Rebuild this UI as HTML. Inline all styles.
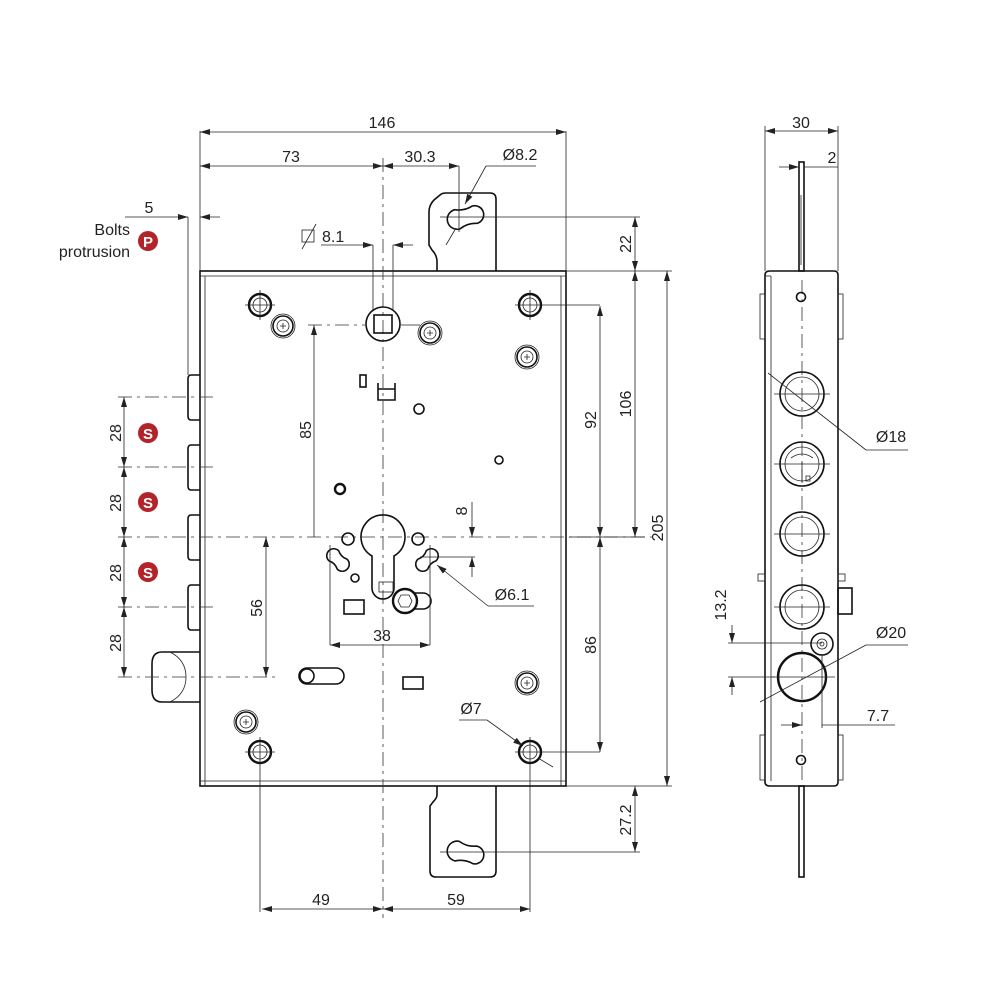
<!DOCTYPE html>
<html><head><meta charset="utf-8"><style>
html,body{margin:0;padding:0;background:#fff}
svg{display:block}
text{font-family:"Liberation Sans","DejaVu Sans",sans-serif;font-size:16px;fill:#222}
.t{stroke:#222;stroke-width:.8;fill:none}
.m{stroke:#111;stroke-width:1.6;fill:none}
.k{stroke:#111;stroke-width:2.4;fill:none}
.d{stroke:#333;stroke-width:.8;fill:none;stroke-dasharray:14 5 3 5}
</style></head><body>
<svg width="1000" height="993" viewBox="0 0 1000 993" xmlns="http://www.w3.org/2000/svg">
<defs>
<marker id="a" viewBox="0 0 10 6" refX="10" refY="3" markerWidth="10" markerHeight="6" orient="auto-start-reverse" markerUnits="userSpaceOnUse"><path d="M0,0 L10,3 L0,6 z" fill="#222"/></marker>
<g id="sc">
<circle cx="0" cy="0" r="12" class="t"/><circle cx="0" cy="0" r="10" class="m"/><circle cx="0" cy="0" r="6" class="t"/>
<path d="M-3,0 H3 M0,-3 V3" class="t"/>
</g>
<path id="pn" d="M-9,-10 A10,10 0 1,0 -9,10 Q0,6 9,9 A9,9 0 1,0 9,-9 Q0,-6 -9,-10 Z" class="m"/>
<path id="ps" d="M-6,-7 A7,7 0 1,0 -6,7 Q0,4 6,7 A7,7 0 1,0 6,-7 Q0,-4 -6,-7 Z" class="m"/>
</defs>

<!-- MAIN BODY -->
<rect x="200" y="271" width="366" height="515" class="m"/>
<line x1="205" y1="276" x2="205" y2="786" class="t"/>
<line x1="561" y1="276" x2="561" y2="786" class="t"/>
<line x1="200" y1="276" x2="566" y2="276" class="t"/>
<line x1="200" y1="781" x2="566" y2="781" class="t"/>

<!-- top plate -->
<path d="M437,271 L437,262 Q437,255 432,250 L429,245 L429,212 Q429,205 434,200 L440,195 Q442,193 446,193 L490,193 Q496,193 496,199 L496,271" class="m"/>
<use href="#pn" transform="translate(466,217) rotate(-15)"/>
<!-- bottom plate -->
<path d="M437,786 L437,795 Q437,798 433,802 L430,806 L430,871 Q430,877 436,877 L490,877 Q496,877 496,871 L496,786" class="m"/>
<use href="#pn" transform="translate(466,853) rotate(12)"/>

<!-- centre line -->
<line x1="383" y1="158" x2="383" y2="918" class="d"/>

<!-- bolts -->
<path d="M200,375 L191,375 Q188,375 188,379 L188,416 Q188,420 191,420 L200,420" class="m"/>
<path d="M200,445 L191,445 Q188,445 188,449 L188,486 Q188,490 191,490 L200,490" class="m"/>
<path d="M200,515 L191,515 Q188,515 188,519 L188,556 Q188,560 191,560 L200,560" class="m"/>
<path d="M200,585 L191,585 Q188,585 188,589 L188,626 Q188,630 191,630 L200,630" class="m"/>
<path d="M200,652 L162,652 Q152,652 152,664 L152,690 Q152,702 162,702 L200,702" class="m"/>
<path d="M170,652 Q186,660 186,677 Q186,694 170,702" class="t"/>
<line x1="188" y1="217" x2="188" y2="375" class="t"/>

<!-- bolt dashed lines -->
<g class="d">
<line x1="118" y1="397" x2="215" y2="397"/>
<line x1="118" y1="467" x2="215" y2="467"/>
<line x1="118" y1="537" x2="660" y2="537"/>
<line x1="118" y1="607" x2="215" y2="607"/>
<line x1="118" y1="677" x2="278" y2="677"/>
<line x1="308" y1="325" x2="365" y2="325"/>
</g>
<line x1="401" y1="325" x2="420" y2="325" class="t"/>

<!-- 28 dims -->
<line x1="124" y1="397" x2="124" y2="467" class="t" marker-start="url(#a)" marker-end="url(#a)"/>
<line x1="124" y1="467" x2="124" y2="537" class="t" marker-start="url(#a)" marker-end="url(#a)"/>
<line x1="124" y1="537" x2="124" y2="607" class="t" marker-start="url(#a)" marker-end="url(#a)"/>
<line x1="124" y1="607" x2="124" y2="677" class="t" marker-start="url(#a)" marker-end="url(#a)"/>
<g font-size="16">
<text transform="translate(121,433) rotate(-90)" text-anchor="middle">28</text>
<text transform="translate(121,503) rotate(-90)" text-anchor="middle">28</text>
<text transform="translate(121,573) rotate(-90)" text-anchor="middle">28</text>
<text transform="translate(121,643) rotate(-90)" text-anchor="middle">28</text>
</g>
<!-- badges -->
<g>
<circle cx="148" cy="433" r="10" fill="#b3232a"/><text x="148" y="439" text-anchor="middle" style="fill:#fff;font-weight:bold;font-size:15px">S</text>
<circle cx="148" cy="502" r="10" fill="#b3232a"/><text x="148" y="508" text-anchor="middle" style="fill:#fff;font-weight:bold;font-size:15px">S</text>
<circle cx="148" cy="572" r="10" fill="#b3232a"/><text x="148" y="578" text-anchor="middle" style="fill:#fff;font-weight:bold;font-size:15px">S</text>
<circle cx="148" cy="241" r="10" fill="#b3232a"/><text x="148" y="247" text-anchor="middle" style="fill:#fff;font-weight:bold;font-size:15px">P</text>
</g>
<text x="130" y="235" text-anchor="end">Bolts</text>
<text x="130" y="257" text-anchor="end">protrusion</text>

<!-- 5 dim -->
<line x1="125" y1="217" x2="188" y2="217" class="t" marker-end="url(#a)"/>
<line x1="220" y1="217" x2="200" y2="217" class="t" marker-end="url(#a)"/>
<text x="149" y="213" text-anchor="middle">5</text>

<!-- 146 / 73 / 30.3 -->
<line x1="200" y1="131" x2="200" y2="271" class="t"/>
<line x1="566" y1="131" x2="566" y2="271" class="t"/>
<line x1="200" y1="132" x2="566" y2="132" class="t" marker-start="url(#a)" marker-end="url(#a)"/>
<text x="382" y="128" text-anchor="middle">146</text>
<line x1="200" y1="166" x2="383" y2="166" class="t" marker-start="url(#a)" marker-end="url(#a)"/>
<text x="291" y="162" text-anchor="middle">73</text>
<line x1="383" y1="166" x2="459" y2="166" class="t" marker-start="url(#a)" marker-end="url(#a)"/>
<line x1="459" y1="166" x2="459" y2="232" class="t"/>
<text x="420" y="162" text-anchor="middle">30.3</text>
<text x="520" y="160" text-anchor="middle">Ø8.2</text>
<line x1="486" y1="166" x2="536" y2="166" class="t"/>
<line x1="486" y1="166" x2="465" y2="204" class="t" marker-end="url(#a)"/>
<line x1="456" y1="228" x2="446" y2="245" class="t" />
<line x1="440" y1="217" x2="640" y2="217" class="t"/>

<!-- 8.1 -->
<rect x="302" y="230" width="12" height="12" class="t"/>
<line x1="302" y1="249" x2="316" y2="224" class="t"/>
<text x="322" y="242">8.1</text>
<line x1="321" y1="245" x2="373" y2="245" class="t" marker-end="url(#a)"/>
<line x1="413" y1="245" x2="393" y2="245" class="t" marker-end="url(#a)"/>
<line x1="373" y1="245" x2="373" y2="310" class="t"/>
<line x1="393" y1="245" x2="393" y2="310" class="t"/>

<!-- spindle -->
<circle cx="383" cy="324" r="17" class="m"/>
<rect x="374" y="315" width="18" height="18" class="m"/>

<!-- fixing holes -->
<g>
<circle cx="260" cy="305" r="11" class="k"/><circle cx="260" cy="305" r="7" class="t"/>
<circle cx="530" cy="305" r="11" class="k"/><circle cx="530" cy="305" r="7" class="t"/>
<circle cx="260" cy="752" r="11" class="k"/><circle cx="260" cy="752" r="7" class="t"/>
<circle cx="530" cy="752" r="11" class="k"/><circle cx="530" cy="752" r="7" class="t"/>
</g>
<g class="t">
<line x1="245" y1="305" x2="275" y2="305"/><line x1="260" y1="290" x2="260" y2="320"/>
<line x1="515" y1="305" x2="600" y2="305"/><line x1="530" y1="290" x2="530" y2="320"/>
<line x1="245" y1="752" x2="275" y2="752"/><line x1="260" y1="737" x2="260" y2="912"/>
<line x1="515" y1="752" x2="600" y2="752"/><line x1="530" y1="737" x2="530" y2="912"/>
</g>
<use href="#sc" transform="translate(283,326)"/>
<use href="#sc" transform="translate(430,333)"/>
<use href="#sc" transform="translate(527,357)"/>
<use href="#sc" transform="translate(527,683)"/>
<use href="#sc" transform="translate(246,722)"/>

<!-- small internal details -->
<rect x="360" y="375" width="6" height="12" class="m"/>
<path d="M378,383 L378,400 L395,400 L395,383 M378,389 L395,389" class="m"/>
<circle cx="419" cy="409" r="5" class="m"/>
<circle cx="499" cy="460" r="4" class="m"/>
<circle cx="340" cy="489" r="5" class="k"/>

<!-- keyhole -->
<path d="M372,556 A22,22 0 1,1 394,556 L394,588 A11,11 0 0,1 372,588 Z" class="m"/>
<rect x="379" y="582" width="14" height="10" class="t"/>
<circle cx="348" cy="539" r="6" class="m"/>
<circle cx="418" cy="539" r="6" class="m"/>
<use href="#ps" transform="translate(338,560) rotate(45)"/>
<use href="#ps" transform="translate(427,560) rotate(-45)"/>
<circle cx="355" cy="578" r="4" class="m"/>
<rect x="344" y="600" width="20" height="14" class="m"/>
<path d="M413,593 L423,593 A8,8 0 0,1 423,609 L413,609" class="m"/>
<circle cx="405" cy="601" r="12" class="k" fill="#fff"/>
<polygon points="398,601 401,595 409,595 412,601 409,607 401,607" class="t"/>
<!-- slot lower -->
<path d="M307,668 L336,668 A8,8 0 0,1 336,684 L307,684 A8,8 0 0,1 307,668 Z" class="m"/>
<circle cx="307" cy="676" r="7" class="m"/>
<rect x="403" y="677" width="20" height="12" class="m"/>

<!-- 85 / 56 / 38 / 8 -->
<line x1="314" y1="537" x2="314" y2="325" class="t" marker-end="url(#a)"/>
<text transform="translate(311,430) rotate(-90)" text-anchor="middle">85</text>
<line x1="266" y1="537" x2="266" y2="677" class="t" marker-start="url(#a)" marker-end="url(#a)"/>
<text transform="translate(262,608) rotate(-90)" text-anchor="middle">56</text>
<line x1="330" y1="545" x2="330" y2="645" class="t"/>
<line x1="430" y1="545" x2="430" y2="645" class="t"/>
<line x1="330" y1="645" x2="430" y2="645" class="t" marker-start="url(#a)" marker-end="url(#a)"/>
<text x="382" y="641" text-anchor="middle">38</text>
<line x1="420" y1="557" x2="475" y2="557" class="t"/>
<line x1="472" y1="502" x2="472" y2="537" class="t" marker-end="url(#a)"/>
<line x1="472" y1="577" x2="472" y2="557" class="t" marker-end="url(#a)"/>
<text transform="translate(467,511) rotate(-90)" text-anchor="middle" font-size="15">8</text>
<line x1="437" y1="565" x2="488" y2="606" class="t" marker-start="url(#a)"/>
<line x1="488" y1="606" x2="534" y2="606" class="t"/>
<text x="512" y="600" text-anchor="middle">Ø6.1</text>
<line x1="459" y1="720" x2="487" y2="720" class="t"/>
<line x1="487" y1="720" x2="523" y2="746" class="t" marker-end="url(#a)"/>
<line x1="538" y1="758" x2="553" y2="767" class="t"/>
<text x="471" y="714" text-anchor="middle">Ø7</text>

<!-- 49 / 59 -->
<line x1="262" y1="909" x2="383" y2="909" class="t" marker-start="url(#a)" marker-end="url(#a)"/>
<line x1="383" y1="909" x2="530" y2="909" class="t" marker-start="url(#a)" marker-end="url(#a)"/>
<text x="321" y="905" text-anchor="middle">49</text>
<text x="456" y="905" text-anchor="middle">59</text>

<!-- right dims -->
<line x1="566" y1="271" x2="672" y2="271" class="t"/>
<line x1="566" y1="786" x2="672" y2="786" class="t"/>
<line x1="440" y1="852" x2="640" y2="852" class="t"/>
<line x1="569" y1="537" x2="645" y2="537" class="t"/>
<line x1="635" y1="217" x2="635" y2="271" class="t" marker-start="url(#a)" marker-end="url(#a)"/>
<line x1="635" y1="271" x2="635" y2="537" class="t" marker-start="url(#a)" marker-end="url(#a)"/>
<line x1="667" y1="271" x2="667" y2="786" class="t" marker-start="url(#a)" marker-end="url(#a)"/>
<line x1="600" y1="306" x2="600" y2="537" class="t" marker-start="url(#a)" marker-end="url(#a)"/>
<line x1="600" y1="537" x2="600" y2="752" class="t" marker-start="url(#a)" marker-end="url(#a)"/>
<line x1="635" y1="786" x2="635" y2="852" class="t" marker-start="url(#a)" marker-end="url(#a)"/>
<text transform="translate(631,244) rotate(-90)" text-anchor="middle">22</text>
<text transform="translate(631,404) rotate(-90)" text-anchor="middle">106</text>
<text transform="translate(663,528) rotate(-90)" text-anchor="middle">205</text>
<text transform="translate(596,420) rotate(-90)" text-anchor="middle">92</text>
<text transform="translate(596,645) rotate(-90)" text-anchor="middle">86</text>
<text transform="translate(631,820) rotate(-90)" text-anchor="middle">27.2</text>

<!-- SIDE VIEW -->
<rect x="799" y="162" width="5" height="109" class="m"/>
<rect x="799" y="786" width="5" height="91" class="m"/>
<line x1="801" y1="195" x2="801" y2="265" class="t"/>
<path d="M770,271 L834,271 Q838,271 838,275 L838,782 Q838,786 834,786 L770,786 Q765,786 765,782 L765,275 Q765,271 770,271 Z" class="m"/>
<line x1="771" y1="276" x2="771" y2="781" class="t"/>
<line x1="765" y1="276" x2="771" y2="276" class="t"/>
<rect x="760" y="294" width="5" height="45" class="t"/>
<rect x="838" y="294" width="5" height="45" class="t"/>
<rect x="760" y="735" width="5" height="45" class="t"/>
<rect x="838" y="735" width="5" height="45" class="t"/>
<rect x="758" y="574" width="7" height="7" class="t"/>
<rect x="838" y="574" width="7" height="7" class="t"/>
<rect x="838" y="588" width="14" height="26" class="m"/>
<line x1="802" y1="280" x2="802" y2="786" class="d"/>
<circle cx="801" cy="297" r="4.5" class="m"/>
<circle cx="801" cy="760" r="4.5" class="m"/>
<g class="m">
<circle cx="802" cy="394" r="22"/><circle cx="802" cy="464" r="22"/><circle cx="802" cy="534" r="22"/><circle cx="802" cy="607" r="22"/>
</g>
<g class="t">
<circle cx="802" cy="394" r="17"/><circle cx="802" cy="464" r="17"/><circle cx="802" cy="534" r="17"/><circle cx="802" cy="607" r="17"/>
<line x1="774" y1="394" x2="830" y2="394"/><line x1="774" y1="464" x2="830" y2="464"/><line x1="774" y1="534" x2="830" y2="534"/><line x1="774" y1="607" x2="830" y2="607"/>
<path d="M791,458 Q802,450 813,458 M802,462 L802,482 M806,476 h4 v5 h-4z"/>
</g>
<circle cx="802" cy="677" r="24" class="k"/>
<path d="M781,665 Q776,677 781,689" class="m"/>
<circle cx="822" cy="644" r="11" class="m"/><circle cx="822" cy="644" r="5" class="t"/><circle cx="822" cy="644" r="2" class="t"/>
<line x1="772" y1="677" x2="835" y2="677" class="t"/>

<!-- side dims -->
<line x1="765" y1="126" x2="765" y2="271" class="t"/>
<line x1="838" y1="126" x2="838" y2="271" class="t"/>
<line x1="765" y1="131" x2="838" y2="131" class="t" marker-start="url(#a)" marker-end="url(#a)"/>
<text x="801" y="128" text-anchor="middle">30</text>
<line x1="779" y1="167" x2="799" y2="167" class="t" marker-end="url(#a)"/>
<line x1="804" y1="167" x2="838" y2="167" class="t"/>
<text x="832" y="163" text-anchor="middle">2</text>
<line x1="768" y1="373" x2="866" y2="450" class="t"/>
<line x1="866" y1="450" x2="908" y2="450" class="t"/>
<text x="891" y="442" text-anchor="middle">Ø18</text>
<line x1="760" y1="702" x2="866" y2="645" class="t"/>
<line x1="866" y1="645" x2="908" y2="645" class="t"/>
<text x="891" y="638" text-anchor="middle">Ø20</text>
<line x1="728" y1="643" x2="822" y2="643" class="t"/>
<line x1="728" y1="677" x2="775" y2="677" class="t"/>
<line x1="732" y1="625" x2="732" y2="643" class="t" marker-end="url(#a)"/>
<line x1="732" y1="695" x2="732" y2="677" class="t" marker-end="url(#a)"/>
<text transform="translate(726,605) rotate(-90)" text-anchor="middle">13.2</text>
<line x1="822" y1="655" x2="822" y2="728" class="t"/>
<line x1="781" y1="725" x2="802" y2="725" class="t" marker-end="url(#a)"/>
<line x1="822" y1="725" x2="895" y2="725" class="t"/>
<text x="878" y="721" text-anchor="middle">7.7</text>
</svg>
</body></html>
